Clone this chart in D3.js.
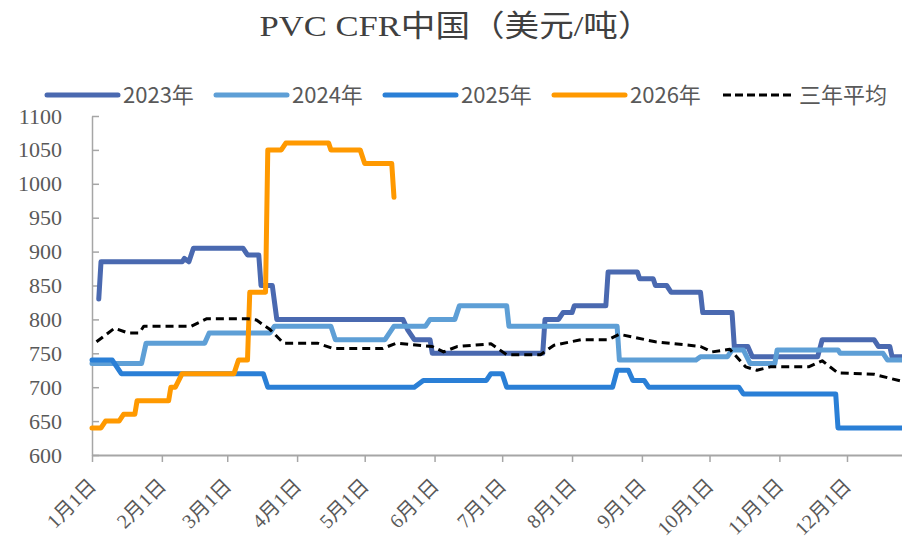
<!DOCTYPE html>
<html>
<head>
<meta charset="utf-8">
<script src="https://cdn.jsdelivr.net/npm/d3@7"></script>
<style>
  html, body { margin: 0; padding: 0; background: #ffffff; }
  svg { display: block; }
</style>
</head>
<body>
<div id="chart"></div>
<script>
// ---------- DATA ----------
const titleText = "PVC CFR中国（美元/吨）";
const seriesNames = ["2023年", "2024年", "2025年", "2026年", "三年平均"];
const yTicks = [600, 650, 700, 750, 800, 850, 900, 950, 1000, 1050, 1100];
const monthTicks = ["01-01","02-01","03-01","04-01","05-01","06-01","07-01","08-01","09-01","10-01","11-01","12-01"];

const s2023 = [
  ["01-04",830],["01-05",885],["02-10",885],["02-11",890],["02-13",885],["02-15",905],
  ["03-08",905],["03-10",895],["03-15",895],["03-16",850],["03-21",850],["03-23",800],
  ["05-18",800],["05-20",785],["05-23",770],["05-30",770],["05-31",750],["07-19",750],
  ["07-20",800],["07-26",800],["07-28",810],["08-01",810],["08-02",820],["08-16",820],
  ["08-17",870],["08-30",870],["08-31",860],["09-06",860],["09-07",850],["09-12",850],
  ["09-14",840],["09-27",840],["09-28",810],["10-11",810],["10-12",760],["10-18",760],
  ["10-20",745],["11-18",745],["11-20",770],["12-13",770],["12-15",760],["12-20",760],
  ["12-21",745],["12-31",745]
];
const s2024 = [
  ["01-01",735],["01-23",735],["01-25",765],["02-20",765],["02-22",780],["03-20",780],
  ["03-22",790],["04-16",790],["04-18",770],["05-10",770],["05-14",790],["05-28",790],
  ["05-30",800],["06-10",800],["06-12",820],["07-03",820],["07-04",790],["08-21",790],
  ["08-22",740],["09-25",740],["09-27",745],["10-09",745],["10-11",755],["10-16",755],
  ["10-19",735],["10-30",735],["10-31",755],["11-27",755],["11-28",750],["12-17",750],
  ["12-19",740],["12-31",740]
];
const s2025 = [
  ["01-01",740],["01-10",740],["01-14",720],["03-17",720],["03-19",700],["05-23",700],
  ["05-27",710],["06-24",710],["06-26",720],["07-01",720],["07-03",700],["08-19",700],
  ["08-21",725],["08-26",725],["08-28",710],["09-02",710],["09-04",700],["10-14",700],
  ["10-16",690],["11-26",690],["11-27",640],["12-31",640]
];
const s2026 = [
  ["01-01",640],["01-05",640],["01-07",650],["01-13",650],["01-15",660],["01-20",660],
  ["01-21",680],["02-04",680],["02-05",700],["02-07",700],["02-10",720],["03-04",720],
  ["03-06",740],["03-10",740],["03-11",840],["03-18",840],["03-19",1050],["03-25",1050],
  ["03-27",1060],["04-15",1060],["04-16",1050],["04-29",1050],["05-01",1030],["05-13",1030],
  ["05-14",980]
];
const sAvg = [
  ["01-03",767],["01-11",787],["01-17",780],["01-22",780],["01-24",790],["02-14",790],
  ["02-21",801],["03-10",801],["03-14",799],["03-20",785],["03-26",765],["04-10",765],
  ["04-17",757],["05-09",757],["05-15",765],["05-31",760],["06-05",752],["06-11",760],
  ["06-26",764],["07-03",748],["07-18",748],["07-24",762],["08-05",770],["08-17",770],
  ["08-22",778],["09-07",767],["09-22",762],["09-27",760],["10-02",752],["10-10",756],
  ["10-17",730],["10-22",725],["10-28",730],["11-14",730],["11-20",739],["11-27",721],
  ["12-13",719],["12-25",709],["12-31",706]
];
const seriesData = [s2023, s2024, s2025, s2026, sAvg];
const seriesColors = ["#4a69b0", "#5e9fd6", "#2a7fd6", "#ff9900", "#000000"];

// ---------- SETUP ----------
const W = 902, H = 542;
const parse = d3.timeParse("%Y-%m-%d");
const toDate = s => parse("2024-" + s);

const svg = d3.select("#chart").append("svg")
  .attr("width", W).attr("height", H)
  .attr("viewBox", `0 0 ${W} ${H}`);

const x = d3.scaleTime()
  .domain([toDate("01-01"), toDate("12-31")])
  .range([92, 914.6]);
const y = d3.scaleLinear().domain([600, 1100]).range([455, 116]);

const serif = "'Liberation Serif', 'DejaVu Serif', 'Noto Sans CJK SC', serif";
const sans = "'Noto Sans CJK SC', 'Noto Sans', sans-serif";
const axisColor = "#a6a6a6";
const labelColor = "#595959";

// Title
svg.append("text")
  .attr("x", 456).attr("y", 36)
  .attr("text-anchor", "middle")
  .attr("font-family", "'Liberation Serif', 'Noto Sans CJK SC', serif")
  .attr("font-size", 30)
  .attr("fill", "#404040")
  .attr("textLength", 393)
  .attr("lengthAdjust", "spacingAndGlyphs")
  .text(titleText);

// Y axis
const yAxis = svg.append("g")
  .attr("transform", "translate(92,0)")
  .call(d3.axisLeft(y).tickValues(yTicks).tickSize(-7).tickSizeOuter(0).tickPadding(30)
    .tickFormat(d3.format("d")));
yAxis.select(".domain").attr("stroke", axisColor).attr("stroke-width", 1.5);
yAxis.selectAll(".tick line").attr("stroke", axisColor).attr("stroke-width", 1.5);
yAxis.selectAll(".tick text")
  .attr("font-family", serif).attr("font-size", 22).attr("fill", labelColor);

// X axis
const xAxis = svg.append("g")
  .attr("transform", "translate(0,455)")
  .call(d3.axisBottom(x).tickValues(monthTicks.map(toDate)).tickSize(7).tickSizeOuter(0)
    .tickFormat(d => `${d.getMonth() + 1}月1日`));
xAxis.select(".domain").attr("stroke", axisColor).attr("stroke-width", 2);
xAxis.selectAll(".tick line").attr("stroke", axisColor).attr("stroke-width", 1.5);
xAxis.selectAll(".tick text")
  .attr("font-family", serif).attr("font-size", 20).attr("fill", labelColor)
  .attr("text-anchor", "end")
  .attr("x", 0).attr("y", 0).attr("dy", 0)
  .attr("transform", "translate(5,32) rotate(-45)");

// Lines
const line = d3.line()
  .x(d => x(toDate(d[0])))
  .y(d => y(d[1]));

const plot = svg.append("g");
seriesData.forEach((data, i) => {
  const isAvg = i === 4;
  plot.append("path")
    .datum(data)
    .attr("fill", "none")
    .attr("stroke", seriesColors[i])
    .attr("stroke-width", isAvg ? 3 : 5)
    .attr("stroke-linejoin", "round")
    .attr("stroke-linecap", isAvg ? "butt" : "round")
    .attr("stroke-dasharray", isAvg ? "8,5" : null)
    .attr("d", line);
});

// Legend
const legend = svg.append("g");
seriesNames.forEach((name, i) => {
  const lx = 47 + i * 169;
  const isAvg = i === 4;
  legend.append("line")
    .attr("x1", lx).attr("x2", lx + 71)
    .attr("y1", 95).attr("y2", 95)
    .attr("stroke", seriesColors[i])
    .attr("stroke-width", isAvg ? 3 : 5)
    .attr("stroke-linecap", isAvg ? "butt" : "round")
    .attr("stroke-dasharray", isAvg ? "8,4" : null);
  legend.append("text")
    .attr("x", lx + 76).attr("y", 95)
    .attr("dy", "0.36em")
    .attr("font-family", sans)
    .attr("font-size", 22)
    .attr("fill", labelColor)
    .text(name);
});
</script>
</body>
</html>
